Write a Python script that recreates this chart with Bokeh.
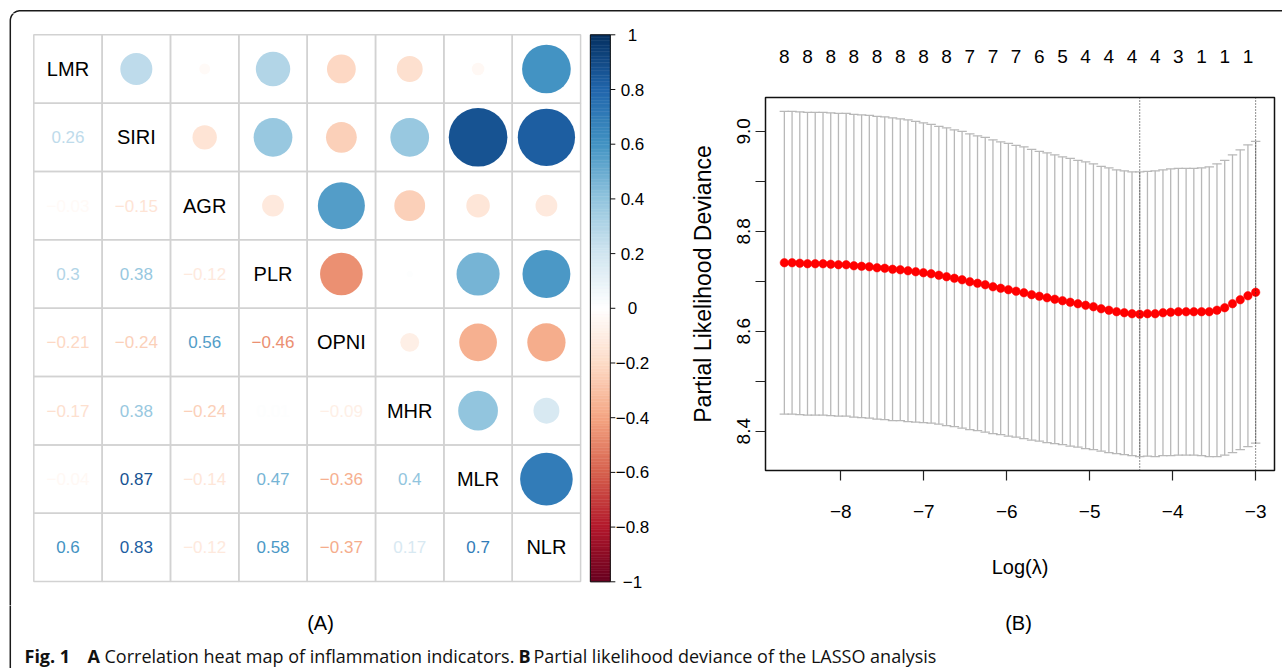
import math
from bokeh.plotting import figure
from bokeh.models import Range1d, FixedTicker, LinearAxis, Span, PrintfTickFormatter, ColumnDataSource
from bokeh.layouts import row, column
from bokeh.embed import file_html
from bokeh.resources import INLINE
from bokeh.core.properties import value

# ---------------- Panel A data: correlation matrix (lower triangle rows) ----------------
indicators = ["LMR", "SIRI", "AGR", "PLR", "OPNI", "MHR", "MLR", "NLR"]
corr_LMR = []
corr_SIRI = [0.26]
corr_AGR = [-0.03, -0.15]
corr_PLR = [0.30, 0.38, -0.12]
corr_OPNI = [-0.21, -0.24, 0.56, -0.46]
corr_MHR = [-0.17, 0.38, -0.24, 0.01, -0.09]
corr_MLR = [-0.04, 0.87, -0.14, 0.47, -0.36, 0.40]
corr_NLR = [0.60, 0.83, -0.12, 0.58, -0.37, 0.17, 0.70]
colorbar_ticks = [-1.0, -0.8, -0.6, -0.4, -0.2, 0.0, 0.2, 0.4, 0.6, 0.8, 1.0]
rdbu_anchors = ["#67001F", "#B2182B", "#D6604D", "#F4A582", "#FDDBC7", "#FFFFFF",
                "#D1E5F0", "#92C5DE", "#4393C3", "#2166AC", "#053061"]

# ---------------- Panel B data: LASSO cross-validation ----------------
log_lambda = [-8.680, -8.587, -8.494, -8.401, -8.308, -8.214, -8.121, -8.028, -7.935, -7.842,
              -7.749, -7.656, -7.563, -7.470, -7.376, -7.283, -7.190, -7.097, -7.004, -6.911,
              -6.818, -6.725, -6.631, -6.538, -6.445, -6.352, -6.259, -6.166, -6.073, -5.980,
              -5.887, -5.793, -5.700, -5.607, -5.514, -5.421, -5.328, -5.235, -5.142, -5.049,
              -4.955, -4.862, -4.769, -4.676, -4.583, -4.490, -4.397, -4.304, -4.211, -4.117,
              -4.024, -3.931, -3.838, -3.745, -3.652, -3.559, -3.466, -3.373, -3.279, -3.186,
              -3.093, -3.000]
cv_mean = [8.737, 8.737, 8.736, 8.735, 8.735, 8.735, 8.734, 8.733, 8.733, 8.731,
           8.730, 8.729, 8.727, 8.726, 8.724, 8.723, 8.721, 8.719, 8.717, 8.715,
           8.712, 8.709, 8.706, 8.703, 8.699, 8.696, 8.693, 8.689, 8.686, 8.683,
           8.680, 8.677, 8.673, 8.670, 8.667, 8.664, 8.661, 8.658, 8.655, 8.652,
           8.649, 8.645, 8.642, 8.639, 8.637, 8.635, 8.634, 8.635, 8.635, 8.637,
           8.638, 8.639, 8.639, 8.639, 8.639, 8.639, 8.642, 8.647, 8.655, 8.663,
           8.671, 8.678]
cv_sd = [0.303, 0.303, 0.303, 0.303, 0.303, 0.303, 0.303, 0.303, 0.303, 0.303,
         0.303, 0.303, 0.303, 0.303, 0.303, 0.302, 0.302, 0.301, 0.300, 0.299,
         0.298, 0.298, 0.297, 0.297, 0.296, 0.295, 0.295, 0.294, 0.293, 0.293,
         0.292, 0.292, 0.291, 0.290, 0.290, 0.289, 0.288, 0.288, 0.287, 0.287,
         0.286, 0.285, 0.285, 0.284, 0.284, 0.284, 0.285, 0.285, 0.286, 0.286,
         0.287, 0.287, 0.287, 0.287, 0.288, 0.290, 0.293, 0.295, 0.298, 0.300,
         0.302, 0.302]
nzero_shown = [8, 8, 8, 8, 8, 8, 8, 8, 7, 7, 7, 6, 5, 4, 4, 4, 4, 3, 1, 1, 1]
nzero_every = 3
idx_lambda_min = 46
idx_lambda_1se = 61
x_ticks = [-8, -7, -6, -5, -4, -3]
y_ticks = [8.4, 8.6, 8.8, 9.0]
y_minor = [8.5, 8.7, 8.9]

ARIAL = "Liberation Sans"
CAPFONT = "Open Sans"
FRAME_COL = "#1a1a1a"


def hex2rgb(h):
    return tuple(int(h[k:k + 2], 16) for k in (1, 3, 5))


def rdbu(r):
    t = (max(-1.0, min(1.0, r)) + 1) / 2 * (len(rdbu_anchors) - 1)
    i = min(int(t), len(rdbu_anchors) - 2)
    f = t - i
    a, b = hex2rgb(rdbu_anchors[i]), hex2rgb(rdbu_anchors[i + 1])
    c = [round(a[k] + (b[k] - a[k]) * f) for k in range(3)]
    return "#%02x%02x%02x" % tuple(c)


def fmt(r):
    s = ("%.2f" % r).rstrip("0").rstrip(".")
    return s.replace("-", "\u2212")


# decorative rounded border of the figure panel (page pixel coordinates)
def border_path():
    cx, cy, rad = 19.8, 20.2, 10.0
    xs, ys = [cx - rad, cx - rad], [700.0, cy]
    for k in range(1, 16):
        a = math.radians(90 * k / 15)
        xs.append(cx - rad * math.cos(a))
        ys.append(cy - rad * math.sin(a))
    xs.append(1300.0)
    ys.append(cy - rad)
    return xs, ys


BX, BY = border_path()


def blank(fig):
    fig.grid.visible = False
    fig.outline_line_color = None
    fig.background_fill_color = None
    fig.border_fill_color = None


lower_rows = [corr_LMR, corr_SIRI, corr_AGR, corr_PLR, corr_OPNI, corr_MHR, corr_MLR, corr_NLR]
n = len(indicators)
R = [[1.0] * n for _ in range(n)]
for i, rowvals in enumerate(lower_rows):
    for j, v in enumerate(rowvals):
        R[i][j] = v
        R[j][i] = v

# ---------------- top strip (border only) ----------------
ps = figure(width=1282, height=13, x_range=Range1d(0, 1282), y_range=Range1d(13, 0),
            x_axis_type=None, y_axis_type=None, min_border=0, toolbar_location=None,
            output_backend="svg", frame_align=False)
blank(ps)
ps.line(BX, BY, line_color=FRAME_COL, line_width=1.5)

# ---------------- Figure A ----------------
pa = figure(width=680, height=592, x_range=Range1d(-0.4872, 9.4616), y_range=Range1d(8.3497, -0.3116),
            x_axis_type=None, y_axis_type=None, min_border=0, toolbar_location=None,
            output_backend="svg", frame_align=False)
blank(pa)
pa.extra_y_ranges = {"cb": Range1d(-1.0867, 1.0779), "py": Range1d(605, 13)}
pa.extra_x_ranges = {"px": Range1d(0, 680)}
pa.line(BX, BY, line_color=FRAME_COL, line_width=1.5, x_range_name="px", y_range_name="py")

cell_x, cell_y = [], []
lab_x, lab_y, lab_t = [], [], []
num_x, num_y, num_t, num_c = [], [], [], []
cir_x, cir_y, cir_r, cir_c = [], [], [], []
for i in range(n):
    for j in range(n):
        cx, cy = j + 0.5, i + 0.5
        cell_x.append(cx)
        cell_y.append(cy)
        r = R[i][j]
        if i == j:
            lab_x.append(cx); lab_y.append(cy); lab_t.append(indicators[i])
        elif i > j:
            num_x.append(cx); num_y.append(cy); num_t.append(fmt(r)); num_c.append(rdbu(r))
        else:
            cir_x.append(cx); cir_y.append(cy); cir_r.append(0.46 * math.sqrt(abs(r))); cir_c.append(rdbu(r))

pa.rect(x=cell_x, y=cell_y, width=1, height=1, fill_color=None, line_color="#d2d2d2", line_width=1.5)
pa.circle(x="x", y="y", radius="r", fill_color="c", line_color=None,
          source=ColumnDataSource(dict(x=cir_x, y=cir_y, r=cir_r, c=cir_c)))
pa.text(x=lab_x, y=lab_y, text=lab_t, text_font=value(ARIAL), text_font_size=value("20px"),
        text_color="black", text_align="center", text_baseline="middle")
pa.text(x="x", y="y", text="t", text_color="c", text_font=value(ARIAL), text_font_size=value("17px"),
        text_align="center", text_baseline="middle",
        source=ColumnDataSource(dict(x=num_x, y=num_y, t=num_t, c=num_c)))

# colour bar (gradient of 200 steps, drawn on the "cb" range)
nb = 200
cb_bot = [-1 + 2 * k / nb for k in range(nb)]
cb_top = [-1 + 2 * (k + 1) / nb for k in range(nb)]
cb_col = [rdbu((b + t) / 2) for b, t in zip(cb_bot, cb_top)]
pa.quad(left=8.143, right=8.435, bottom=cb_bot, top=cb_top, fill_color=cb_col, line_color=cb_col,
        line_width=0.5, y_range_name="cb")
pa.quad(left=8.143, right=8.435, bottom=colorbar_ticks[0], top=colorbar_ticks[-1], fill_color=None,
        line_color="#111111", line_width=1, y_range_name="cb")
pa.segment(x0=8.435, x1=8.508, y0=colorbar_ticks, y1=colorbar_ticks, line_color="#111111",
           line_width=1, y_range_name="cb")
pa.text(x=8.759, y=colorbar_ticks, text=[fmt(t) for t in colorbar_ticks], text_font=value(ARIAL),
        text_font_size=value("17px"), text_color="black", text_align="center", text_baseline="middle",
        y_range_name="cb")

# ---------------- Figure B ----------------
xmin, xmax = min(log_lambda), max(log_lambda)
xpad = 0.04 * (xmax - xmin)
cv_up = [m + s for m, s in zip(cv_mean, cv_sd)]
cv_lo = [m - s for m, s in zip(cv_mean, cv_sd)]
ymin, ymax = min(cv_lo), max(cv_up)
ypad = 0.04 * (ymax - ymin)

pb = figure(frame_width=509, frame_height=373, min_border_left=85, min_border_right=8,
            min_border_top=84, min_border_bottom=135,
            x_range=Range1d(xmin - xpad, xmax + xpad), y_range=Range1d(ymin - ypad, ymax + ypad),
            toolbar_location=None, output_backend="svg", frame_align=False)
pb.grid.visible = False
pb.background_fill_color = None
pb.border_fill_color = None
pb.outline_line_color = "#111111"
pb.outline_line_width = 1.5

barw = 0.01 * (xmax - xmin)
pb.segment(x0=log_lambda, x1=log_lambda, y0=cv_lo, y1=cv_up, line_color="#b8b8b8", line_width=1.3)
pb.segment(x0=[x - barw for x in log_lambda], x1=[x + barw for x in log_lambda], y0=cv_up, y1=cv_up,
           line_color="#b8b8b8", line_width=1.3)
pb.segment(x0=[x - barw for x in log_lambda], x1=[x + barw for x in log_lambda], y0=cv_lo, y1=cv_lo,
           line_color="#b8b8b8", line_width=1.3)
pb.scatter(x=log_lambda, y=cv_mean, size=8.5, fill_color="#ff0000", line_color="#ff0000", line_width=0.5)
for idx in (idx_lambda_min, idx_lambda_1se):
    pb.add_layout(Span(location=log_lambda[idx], dimension="height", line_color="#222222",
                       line_dash="1 2", line_width=1))

xa = pb.xaxis[0]
xa.ticker = FixedTicker(ticks=x_ticks)
xa.major_label_overrides = {t: ("\u2212%d" % abs(t)) for t in x_ticks}
xa.axis_label = "Log(\u03bb)"
xa.axis_line_color = None
xa.major_tick_out = 10
xa.major_tick_in = 0
xa.minor_tick_line_color = None
xa.major_tick_line_color = "#222222"
xa.major_tick_line_width = 1.2
xa.major_label_text_font = ARIAL
xa.major_label_text_font_size = "19px"
xa.major_label_text_color = "black"
xa.major_label_standoff = 24
xa.axis_label_text_font = ARIAL
xa.axis_label_text_font_size = "20px"
xa.axis_label_text_font_style = "normal"
xa.axis_label_text_color = "black"
xa.axis_label_standoff = 35

ya = pb.yaxis[0]
ya.ticker = FixedTicker(ticks=y_ticks, minor_ticks=y_minor)
ya.formatter = PrintfTickFormatter(format="%.1f")
ya.axis_line_color = None
ya.major_tick_out = 10
ya.major_tick_in = 0
ya.minor_tick_out = 10
ya.minor_tick_in = 0
ya.major_tick_line_color = "#222222"
ya.minor_tick_line_color = "#222222"
ya.major_tick_line_width = 1.2
ya.minor_tick_line_width = 1.2
ya.major_label_orientation = "vertical"
ya.major_label_text_font = ARIAL
ya.major_label_text_font_size = "19px"
ya.major_label_text_color = "black"
ya.major_label_standoff = 5
ya.axis_label = "Partial Likelihood Deviance"
ya.axis_label_text_font = ARIAL
ya.axis_label_text_font_size = "23px"
ya.axis_label_text_font_style = "normal"
ya.axis_label_text_color = "black"
ya.axis_label_standoff = 19

top_x = log_lambda[::nzero_every][:len(nzero_shown)]
top_axis = LinearAxis(ticker=FixedTicker(ticks=top_x),
                      major_label_overrides={x: str(v) for x, v in zip(top_x, nzero_shown)})
top_axis.axis_line_color = None
top_axis.major_tick_line_color = None
top_axis.minor_tick_line_color = None
top_axis.major_tick_out = 0
top_axis.major_tick_in = 0
top_axis.major_label_text_font = ARIAL
top_axis.major_label_text_font_size = "19px"
top_axis.major_label_text_color = "black"
top_axis.major_label_standoff = 35
pb.add_layout(top_axis, "above")

# ---------------- Caption strip ----------------
pc = figure(width=1282, height=63, x_range=Range1d(0, 1282), y_range=Range1d(668, 605),
            x_axis_type=None, y_axis_type=None, min_border=0, toolbar_location=None,
            output_backend="svg", frame_align=False)
blank(pc)
pc.line(BX, BY, line_color=FRAME_COL, line_width=1.5)
pc.text(x=[320, 1018], y=[622, 622], text=["(A)", "(B)"], text_font=value(ARIAL),
        text_font_size=value("20px"), text_color="black", text_align="center", text_baseline="middle")
pc.text(x=[24, 87, 518], y=[655, 655, 655], text=["Fig. 1", "A", "B"], text_font=value(CAPFONT),
        text_font_size=value("18px"), text_font_style="bold", text_color="#111111",
        text_align="left", text_baseline="middle")
pc.text(x=[104, 533], y=[655, 655],
        text=["Correlation heat map of inflammation indicators.",
              "Partial likelihood deviance of the LASSO analysis"],
        text_font=value(CAPFONT), text_font_size=value("18px"), text_color="#111111",
        text_align="left", text_baseline="middle")

layout = column(ps, row(pa, pb), pc)

open("out.html", "w").write(file_html(layout, INLINE))
